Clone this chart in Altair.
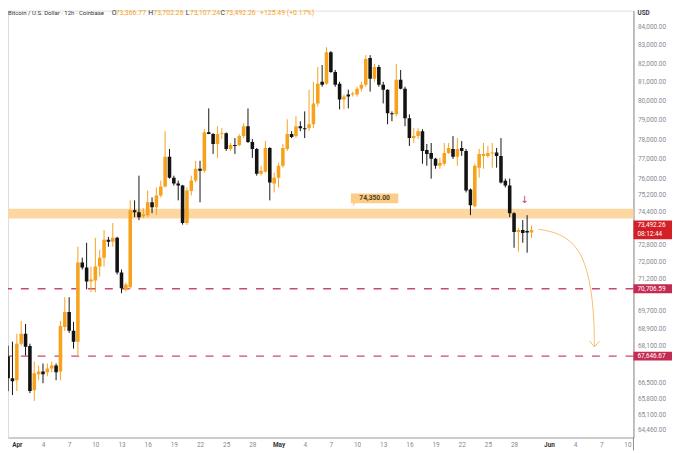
import altair as alt
import pandas as pd

# ---------------- data ----------------
first_bar = "2026-03-31 00:00"   # 12h candles
opens = [67627, 66668, 66582, 68200, 68645, 68100, 66151, 66841, 66970, 66927,
         67100, 67232, 66970, 68956, 69634, 68778, 68289, 71930, 71698, 71047,
         71093, 71744, 72164, 73014, 72920, 73110, 71465, 70680, 70771, 74449,
         74353, 74159, 74208, 74836, 74600, 75176, 75618, 77104, 76060, 75765,
         75667, 73824, 75400, 75912, 76507, 76408, 78367, 78265, 77758, 78265,
         78316, 77507, 77708, 77700, 78163, 78673, 77859, 77507, 76258, 76358,
         77557, 75765, 76060, 76656, 77507, 78265, 78163, 78673, 78571, 78571,
         78776, 79856, 81000, 80896, 82593, 81529, 80896, 80063, 80323, 80323,
         80323, 80636, 80844, 82273, 81159, 81794, 80844, 80583, 79340, 79289,
         81106, 80636, 79082, 78061, 78163, 78418, 77456, 77306, 77005, 76656,
         76756, 77306, 77507, 77104, 77557, 77406, 75471, 74642, 76557, 77154,
         77154, 77280, 77330, 77154, 75900, 75667, 74304, 73396, 73491, 73443,
         73366.77]
highs = [68111, 68289, 68645, 69227, 69091, 68200, 67407, 67232, 67320, 67320,
         67407, 67320, 69227, 70315, 70315, 69182, 72684, 72164, 72873, 71744,
         73110, 72542, 73491, 73157, 73824, 73160, 71605, 71000, 74932, 74932,
         76159, 74546, 75422, 75078, 75569, 75912, 78418, 77507, 76159, 75912,
         75700, 75569, 76159, 76905, 76905, 78520, 79598, 78316, 78673, 78571,
         78350, 77809, 78061, 78265, 78827, 79598, 78010, 77557, 76656, 77909,
         77600, 76308, 76806, 77758, 79031, 78418, 79186, 78929, 79443, 80583,
         81000, 81794, 81899, 82861, 82650, 81635, 81000, 80323, 80583, 80479,
         80740, 81000, 82433, 82433, 81952, 81899, 81000, 80600, 79443, 81952,
         81635, 80740, 79289, 78571, 78571, 78520, 77758, 77809, 77054, 77054,
         77809, 77809, 78163, 78061, 77909, 77507, 75520, 76756, 77507, 77809,
         77658, 77809, 77557, 78061, 76010, 76010, 74350, 73586, 73967, 74208,
         73702.26]
lows = [66108, 65936, 66108, 68111, 67671, 66022, 65682, 66582, 66453, 66754,
        66927, 66582, 66582, 68778, 68689, 67978, 67671, 71605, 70680, 70543,
        70543, 71279, 71744, 72684, 72684, 71372, 70497, 70589, 70680, 74111,
        73967, 74063, 74111, 74304, 74208, 75078, 75569, 76010, 75667, 74932,
        73750, 73729, 75176, 75814, 74836, 76308, 78265, 77255, 77054, 78010,
        77406, 77406, 77255, 77650, 78061, 77809, 77054, 76159, 76159, 76308,
        74932, 75324, 75569, 76557, 77406, 78061, 78061, 78418, 78061, 78418,
        78571, 79701, 80740, 80844, 81476, 80740, 79547, 79547, 79598, 80219,
        80219, 80479, 80740, 80479, 81000, 80740, 79856, 78776, 78929, 79186,
        80600, 78673, 77658, 77809, 78010, 76756, 76656, 76010, 76507, 76507,
        76656, 77255, 77005, 76656, 77154, 75324, 74208, 74594, 76060, 76507,
        77054, 76557, 76557, 75765, 75569, 74111, 72636, 72448, 72873, 72400,
        73107.24]
closes = [66668, 66539, 68200, 68645, 68067, 66108, 66884, 66970, 66841, 67100,
          67232, 66927, 69000, 69634, 68778, 68289, 71930, 71698, 71047, 71140,
          71744, 72164, 73014, 72920, 73110, 71465, 70726, 70909, 74449, 74353,
          74111, 74256, 74836, 74594, 75176, 75618, 77104, 76060, 75765, 75667,
          73824, 75422, 75912, 76507, 76408, 78367, 78265, 77758, 78265, 78316,
          77507, 77708, 77658, 78163, 78673, 77859, 77507, 76258, 76408, 77557,
          75814, 76060, 76656, 77557, 78265, 78112, 78673, 78571, 78520, 78776,
          79856, 80896, 80844, 82593, 81529, 80844, 80063, 80219, 80219, 80375,
          80636, 80844, 82219, 81159, 81794, 80844, 80583, 79340, 79289, 81106,
          80636, 79082, 78061, 78163, 78418, 77406, 77255, 77005, 76656, 76806,
          77306, 77557, 77104, 77507, 77406, 75422, 74691, 76656, 77255, 77255,
          77306, 77330, 77154, 75814, 75667, 74304, 73396, 73491, 73348, 73366.77,
          73492.26]

band_low, band_high, band_level = 74040, 74525, 74350
support_levels = [70706.59, 67646.67]
last_price = 73492.26
countdown = "08:12:44"

y_tick_values = [84000, 83000, 82000, 81000, 80000, 79000, 78000, 77000, 76000,
                 75200, 74400, 72800, 72000, 71200, 69700, 68900, 68100, 66500,
                 65800, 65100, 64460]
x_tick_days = {4: [1, 4, 7, 10, 13, 16, 19, 22, 25, 28],
               5: [1, 4, 7, 10, 13, 16, 19, 22, 25, 28],
               6: [1, 4, 7, 10]}

header_texts = ["Bitcoin / U.S. Dollar · 12h · Coinbase", "O", "73,366.77", "H", "73,702.26",
                "L", "73,107.24", "C", "73,492.26", "+125.49 (+0.17%)"]

arrow_times = ["2026-05-30T18:55:00", "2026-06-01T11:04:00", "2026-06-02T22:55:00",
               "2026-06-04T01:40:00", "2026-06-04T23:53:00", "2026-06-05T15:56:00",
               "2026-06-05T23:57:00", "2026-06-06T04:30:00", "2026-06-06T05:18:00"]
arrow_prices = [73524, 73410, 73124, 72703, 72071, 71060, 70146, 69091, 68054]
marker_time = "2026-05-29T04:36:00"
marker_price = 74932

# ---------------- styles ----------------
W, H = 633, 432
ORANGE = "#f6a21d"
BLACK = "#131313"
BAND = "#fdd7a1"
RED_DASH = "#c94a6f"
TAG_RED = "#d41f26"
TAG_CRIMSON = "#c42a52"
AXIS_TXT = "#858992"
FONT = "Roboto"

times = pd.date_range(first_bar, periods=len(opens), freq="12h")
bars = pd.DataFrame({
    "t": times.strftime("%Y-%m-%dT%H:%M:%S"),
    "o": opens, "h": highs, "l": lows, "c": closes,
})

xs = alt.Scale(domain=[alt.DateTime(year=2026, month=3, date=31, hours=13, minutes=18),
                       alt.DateTime(year=2026, month=6, date=10, hours=2, minutes=56)])
ys = alt.Scale(type="log", domain=[64124, 84877])

x_values = [alt.DateTime(year=2026, month=m, date=d) for m, days in x_tick_days.items() for d in days]
is_first = "date(datum.value) == 1"
xaxis = alt.Axis(values=x_values, ticks=False, grid=False, labelPadding=4,
                 labelExpr=f"{is_first} ? timeFormat(datum.value, '%b') : '' + date(datum.value)",
                 labelFontSize=6.5, labelFont=FONT,
                 labelColor={"condition": {"test": is_first, "value": "#333333"}, "value": AXIS_TXT},
                 labelFontWeight={"condition": {"test": is_first, "value": "bold"}, "value": "normal"},
                 domainColor="#aaaaaa", domainWidth=1, labelOverlap=False, labelSeparation=0)
yaxis = alt.Axis(orient="right", values=y_tick_values, format=",.2f", ticks=False, grid=False,
                 labelPadding=4, labelFontSize=6.5, labelFont=FONT, labelColor=AXIS_TXT,
                 domainColor="#8e8e8e", domainWidth=1, labelOverlap=False, labelFlush=False)

up = "datum.c >= datum.o"
color_cond = alt.condition(up, alt.value(ORANGE), alt.value(BLACK))

base = alt.Chart(bars)
wicks = base.mark_rule(strokeWidth=1, clip=True).encode(
    x=alt.X("t:T", scale=xs, axis=xaxis, title=None),
    y=alt.Y("l:Q", scale=ys, axis=yaxis, title=None),
    y2="h:Q",
    color=color_cond,
)
bodies = base.mark_bar(size=3.6, clip=True).encode(
    x=alt.X("t:T", scale=xs, axis=xaxis, title=None),
    y=alt.Y("o:Q", scale=ys, axis=yaxis, title=None),
    y2="c:Q",
    color=color_cond,
)

band = alt.Chart(pd.DataFrame({"lo": [band_low], "hi": [band_high]})).mark_rect(color=BAND).encode(
    x=alt.value(0), x2=alt.value(W),
    y=alt.Y("lo:Q", scale=ys, axis=yaxis, title=None), y2="hi:Q",
)

sup_df = pd.DataFrame({"p": support_levels})
dashes = alt.Chart(sup_df).mark_rule(color=RED_DASH, strokeWidth=1.4, strokeDash=[8, 9]).encode(
    y=alt.Y("p:Q", scale=ys, axis=yaxis, title=None)
)

arrow_df = pd.DataFrame({"t": arrow_times, "p": arrow_prices})
arrow = alt.Chart(arrow_df).mark_line(interpolate="basis", color="#f5bf6e", strokeWidth=1).encode(
    x=alt.X("t:T", scale=xs, axis=xaxis, title=None), y=alt.Y("p:Q", scale=ys, axis=yaxis, title=None)
)
arrow_head = alt.Chart(arrow_df.tail(1)).mark_point(
    shape="M-1,-1.2L0,0L1,-1.2", filled=False, size=100, color="#f5bf6e", strokeWidth=1, opacity=1
).encode(x=alt.X("t:T", scale=xs, axis=xaxis, title=None), y=alt.Y("p:Q", scale=ys, axis=yaxis, title=None))

marker = alt.Chart(pd.DataFrame({"t": [marker_time], "p": [marker_price]})).mark_text(
    text="↓", font="DejaVu Sans", fontSize=10, color="#d0405e", baseline="middle"
).encode(x=alt.X("t:T", scale=xs, axis=xaxis, title=None), y=alt.Y("p:Q", scale=ys, axis=yaxis, title=None))

lvl_df = pd.DataFrame({"p": [band_level]})
lvl_box = alt.Chart(lvl_df).mark_tick(orient="horizontal", size=48, thickness=10, color="#fccd88",
                                      opacity=1, yOffset=-14).encode(
    x=alt.value(371), y=alt.Y("p:Q", scale=ys, axis=yaxis, title=None)
)
lvl_ptr = alt.Chart(lvl_df).mark_point(shape="M0,0L1,0L0,1Z", filled=True, size=36, color="#fccd88",
                                       opacity=1, yOffset=-9, xOffset=0).encode(
    x=alt.value(349), y=alt.Y("p:Q", scale=ys, axis=yaxis, title=None)
)
lvl_txt = alt.Chart(lvl_df).mark_text(fontSize=6.8, fontWeight="bold", color="#4f3f25", font=FONT,
                                      yOffset=-14, baseline="middle").encode(
    x=alt.value(371), y=alt.Y("p:Q", scale=ys, axis=yaxis, title=None), text=alt.Text("p:Q", format=",.2f")
)

sup_tags = alt.Chart(sup_df).mark_tick(orient="horizontal", size=39, thickness=9, color=TAG_CRIMSON,
                                       opacity=1).encode(
    x=alt.value(W + 19.5), y=alt.Y("p:Q", scale=ys, axis=yaxis, title=None)
)
sup_txt = alt.Chart(sup_df).mark_text(align="left", baseline="middle", fontSize=6.5, color="white",
                                      font=FONT).encode(
    x=alt.value(W + 4), y=alt.Y("p:Q", scale=ys, axis=yaxis, title=None), text=alt.Text("p:Q", format=",.2f")
)

last_df = pd.DataFrame({"p": [last_price], "cd": [countdown]})
last_tag = alt.Chart(last_df).mark_tick(orient="horizontal", size=39, thickness=19, color=TAG_RED,
                                        opacity=1).encode(
    x=alt.value(W + 19.5), y=alt.Y("p:Q", scale=ys, axis=yaxis, title=None)
)
last_txt = alt.Chart(last_df).mark_text(align="left", baseline="middle", fontSize=6.5, color="white",
                                        font=FONT, dy=-4.5).encode(
    x=alt.value(W + 4), y=alt.Y("p:Q", scale=ys, axis=yaxis, title=None), text=alt.Text("p:Q", format=",.2f")
)
last_cd = alt.Chart(last_df).mark_text(align="left", baseline="middle", fontSize=6.5, color="white",
                                       font=FONT, dy=4.5).encode(
    x=alt.value(W + 4), y=alt.Y("p:Q", scale=ys, axis=yaxis, title=None), text="cd:N"
)

one = pd.DataFrame({"k": [0]})
header_x = [0, 105, 109, 142, 147, 180, 184, 215, 220, 255]
header_size = [6.1, 7.0, 7.0, 7.0, 7.0, 7.0, 7.0, 7.0, 7.0, 7.0]
header_col = ["#30333b", "#30333b", ORANGE, "#30333b", ORANGE, "#30333b", ORANGE, "#30333b", ORANGE, ORANGE]
header_layers = [
    alt.Chart(one).mark_text(text=txt, align="left", baseline="middle", fontSize=fs, font=FONT,
                             color=col).encode(x=alt.value(hx), y=alt.value(2.2))
    for txt, hx, fs, col in zip(header_texts, header_x, header_size, header_col)
]
usd = alt.Chart(one).mark_text(text="USD", align="left", baseline="middle", fontSize=6.5, font=FONT,
                               color="#3a3d45", fontWeight="bold").encode(x=alt.value(W + 4), y=alt.value(2.5))
axis_ext = alt.Chart(one).mark_rule(color="#8e8e8e", strokeWidth=1).encode(
    x=alt.value(W), y=alt.value(H), y2=alt.value(H + 13)
)

chart = alt.layer(
    band, dashes, wicks, bodies, arrow, arrow_head, marker, lvl_ptr, lvl_box, lvl_txt,
    sup_tags, sup_txt, last_tag, last_txt, last_cd, *header_layers, usd, axis_ext
).properties(
    width=W, height=H,
    autosize=alt.AutoSizeParams(type="none"),
    padding={"left": 0, "top": 0, "right": 39, "bottom": 13},
).configure_view(stroke=None).configure(font=FONT).configure_axis(labelOverlap=False)

chart.save("out.html", embed_options={"renderer": "svg", "actions": False})
